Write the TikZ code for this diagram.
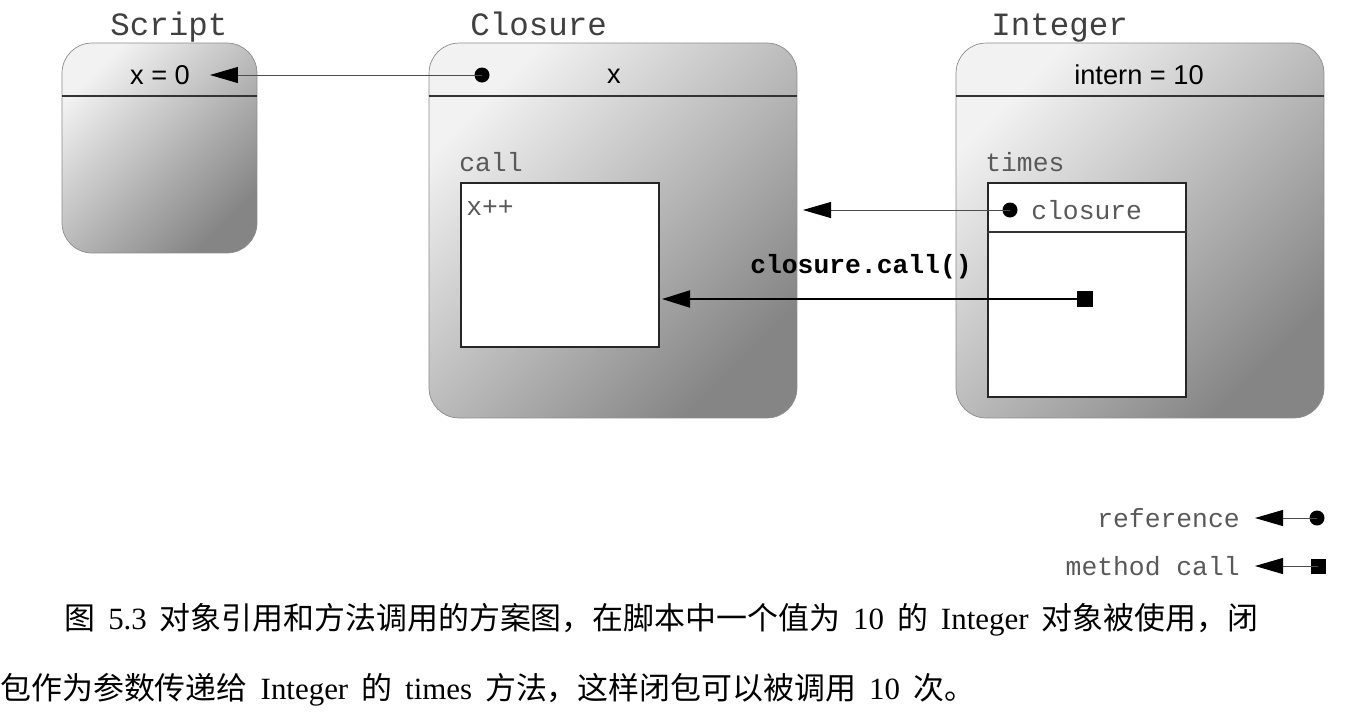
\documentclass[tikz,border=0pt]{standalone}
\usepackage{fontspec}
\setmainfont{Liberation Serif}
\setsansfont{Liberation Sans}
\setmonofont{Liberation Mono}
\newfontfamily\cjk{Noto Sans CJK SC}
\usepackage{tikz}
\usetikzlibrary{arrows.meta,positioning}
\newcommand{\capgap}{\hspace{0.42em}}

\tikzset{
  objbox/.style={draw=black!45, thin, rounded corners=0.6cm, top color=black!5, bottom color=black!48, shading angle=45},
  methbox/.style={draw=black!85, line width=1.1pt, fill=white},
  divider/.style={draw=black!80, line width=1.1pt},
  title/.style={font=\fontsize{18.5}{20}\selectfont\ttfamily, text=black!75, anchor=base west, inner sep=0pt},
  code/.style={font=\fontsize{15}{17}\selectfont\ttfamily, text=black!65, anchor=west, inner sep=0pt},
  field/.style={font=\fontsize{15.5}{17}\selectfont\sffamily, inner sep=0pt},
  refdot/.style={circle, fill=black, inner sep=0pt, minimum size=0.3cm},
  callsq/.style={rectangle, fill=black, inner sep=0pt, minimum size=0.33cm},
  refline/.style={draw=black!70, line width=0.5pt, -{Triangle[length=0.56cm,width=0.32cm,color=black]}},
  callline/.style={draw=black, line width=1.1pt, -{Triangle[length=0.56cm,width=0.34cm]}},
  caption/.style={font=\fontsize{17.6}{19}\selectfont\cjk, anchor=west, inner sep=0pt}
}

\begin{document}
\begin{tikzpicture}[x=0.02cm,y=-0.02cm]
  \useasboundingbox (0,0) rectangle (1366,718);
  % 三个对象
  \node[objbox, minimum width=3.9cm, minimum height=4.2cm] (script) at (159.5,148) {};
  \node[objbox, minimum width=7.36cm, minimum height=7.5cm] (closure) at (613,230.5) {};
  \node[objbox, minimum width=7.36cm, minimum height=7.5cm] (integer) at (1140,230.5) {};
  \draw[divider] (script.west |- 0,96) -- (script.east |- 0,96);
  \draw[divider] (closure.west |- 0,96) -- (closure.east |- 0,96);
  \draw[divider] (integer.west |- 0,96) -- (integer.east |- 0,96);
  \node[title] (scripttitle) at (110,35) {Script};
  \node[title] (closuretitle) at (470,35) {Closure};
  \node[title] (integertitle) at (991,35) {Integer};
  \node[field] (xval) at (160,75) {x = 0};
  \node[field] (xfield) at (614,76) {x};
  \node[field] (intern) at (1139,75) {intern = 10};
  % 方法
  \node[methbox, minimum width=3.96cm, minimum height=3.28cm] (callbox) at (560,265) {};
  \node[methbox, minimum width=3.96cm, minimum height=4.28cm] (timesbox) at (1087,290) {};
  \draw[divider] (timesbox.west |- 0,232) -- (timesbox.east |- 0,232);
  \node[code] (calllbl) at (459,162) {call};
  \node[code] (timeslbl) at (985,162) {times};
  \node[code] (xinc) at (466,208) {x++};
  \node[code] (closurearg) at (1031,210) {closure};
  % 引用和调用
  \node[refdot] (cref) at (482,75) {};
  \coordinate (stip) at (210,75);
  \draw[refline] (cref.center) -- (stip);
  \node[refdot] (tref) at (1010,210) {};
  \coordinate (ctip) at (803,210);
  \draw[refline] (tref.center) -- (ctip);
  \node[callsq] (tcall) at (1085,299) {};
  \coordinate (calltip) at (662,299);
  \draw[callline] (tcall.center) -- (calltip);
  \node[font=\fontsize{15}{17}\selectfont\ttfamily\bfseries, inner sep=0pt] (calltext) at (861,267) {closure.call()};
  % 图例
  \node[code, anchor=east] (reflegend) at (1240,518) {reference};
  \node[refdot] (legdot) at (1317,518) {};
  \coordinate (legrtip) at (1255,518);
  \draw[refline] (legdot.center) -- (legrtip);
  \node[code, anchor=east] (calllegend) at (1240,566) {method call};
  \node[callsq, minimum size=0.3cm] (legsq) at (1318,566) {};
  \coordinate (legctip) at (1255,566);
  \draw[refline] (legsq.center) -- (legctip);
  % 图注
  \node[caption] (cap1) at (64,620) {图\capgap{\rmfamily 5.3}\capgap 对象引用和方法调用的方案图，在脚本中一个值为\capgap{\rmfamily 10}\capgap 的\capgap{\rmfamily Integer}\capgap 对象被使用，闭};
  \node[caption] (cap2) at (0,690) {包作为参数传递给\capgap{\rmfamily Integer}\capgap 的\capgap{\rmfamily times}\capgap 方法，这样闭包可以被调用\capgap{\rmfamily 10}\capgap 次。};
\end{tikzpicture}
\end{document}
